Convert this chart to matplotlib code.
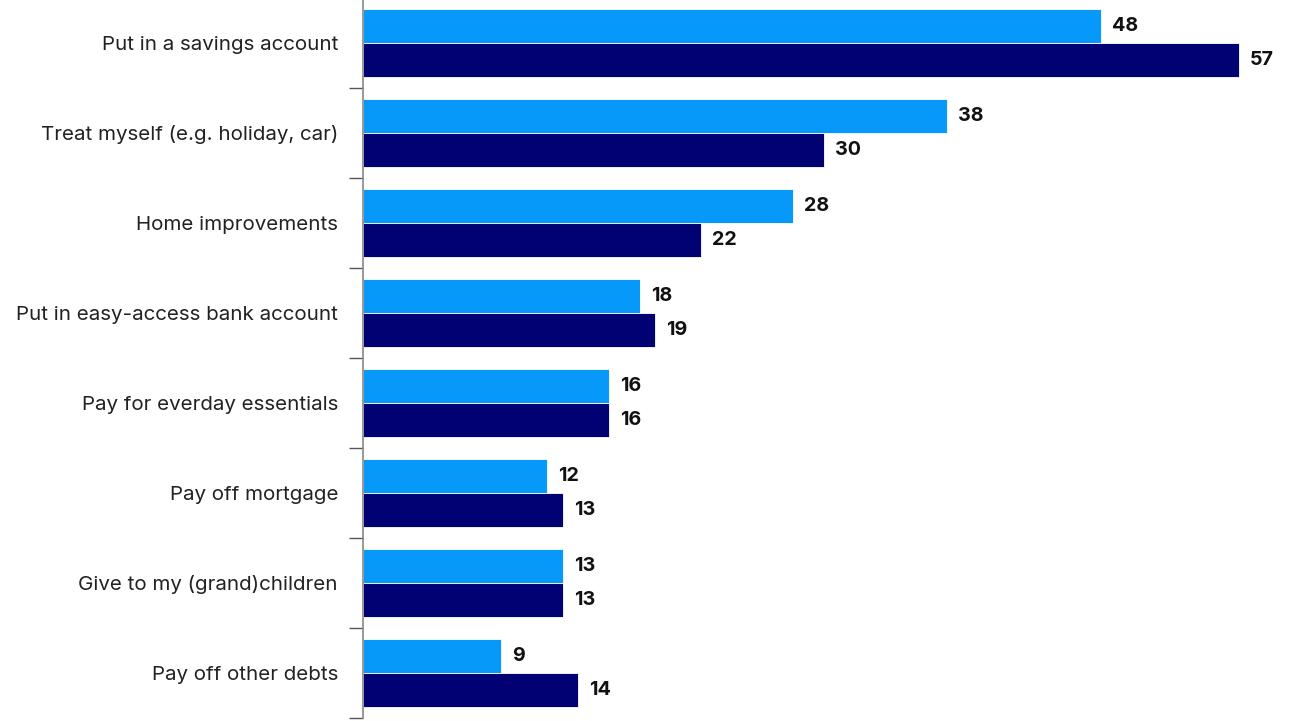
import matplotlib
matplotlib.use("Agg")
import matplotlib.pyplot as plt
import numpy as np

categories = [
    "Put in a savings account",
    "Treat myself (e.g. holiday, car)",
    "Home improvements",
    "Put in easy-access bank account",
    "Pay for everday essentials",
    "Pay off mortgage",
    "Give to my (grand)children",
    "Pay off other debts",
]
series_a = [48, 38, 28, 18, 16, 12, 13, 9]
series_b = [57, 30, 22, 19, 16, 13, 13, 14]

color_a = "#0799FA"
color_b = "#020174"

plt.rcParams["font.family"] = ["Inter", "DejaVu Sans"]

W, H = 1290, 721
fig = plt.figure(figsize=(W / 100, H / 100), dpi=100)
left_px, top_px, bottom_px = 363, -2, 718
ax = fig.add_axes([left_px / W, 1 - bottom_px / H, 1 - left_px / W, (bottom_px - top_px) / H])

n = len(categories)
y = np.arange(n)
h = 0.372
ax.barh(y - h / 2 - 0.003, series_a, height=h, color=color_a, edgecolor="white", linewidth=0.6)
ax.barh(y + h / 2 + 0.003, series_b, height=h, color=color_b, edgecolor="white", linewidth=0.6)

for yi, va, vb in zip(y, series_a, series_b):
    ax.text(va + 0.72, yi - h / 2, str(va), va="center", ha="left",
            fontsize=14.2, fontweight="bold", color="#111111")
    ax.text(vb + 0.72, yi + h / 2, str(vb), va="center", ha="left",
            fontsize=14.2, fontweight="bold", color="#111111")

ax.set_xlim(0, (W - left_px) / 15.37)
ax.set_ylim(n - 0.5, -0.5)

ax.set_yticks(y)
ax.set_yticklabels(categories, fontsize=14.8, color="#222222")
ax.tick_params(axis="y", which="major", length=0, pad=18)
ax.set_yticks(np.arange(-0.5, n + 0.5, 1), minor=True)
ax.tick_params(axis="y", which="minor", length=10, width=1, color="#555555")
ax.set_xticks([])

for s in ["top", "right", "bottom"]:
    ax.spines[s].set_visible(False)
ax.spines["left"].set_color("#888888")
ax.spines["left"].set_linewidth(1.2)

fig.savefig("out.png", dpi=100)
